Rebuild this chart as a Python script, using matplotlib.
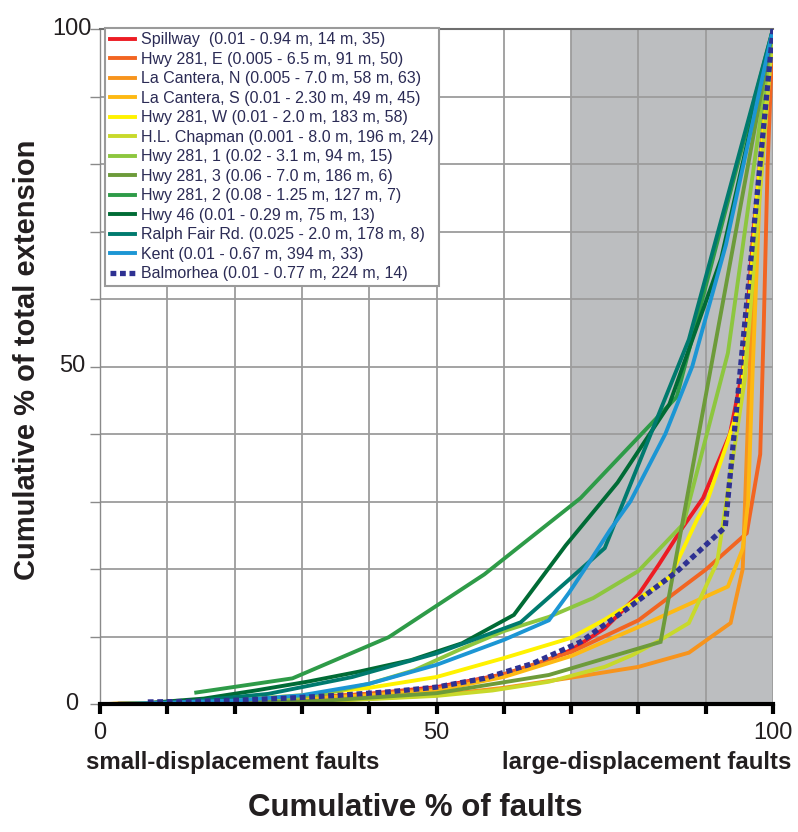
import matplotlib
matplotlib.use("Agg")
import matplotlib.pyplot as plt
from matplotlib.ticker import FixedLocator, NullFormatter
from matplotlib.transforms import blended_transform_factory

plt.rcParams['font.family'] = ['Liberation Sans', 'DejaVu Sans']

# ---- data: cumulative % of faults (x) vs cumulative % of total extension (y) ----
spillway_x = [2.9, 10, 20, 30, 40, 50, 60, 65, 70, 75, 80, 83, 86.6, 89.6, 93.6, 95.6, 97.1, 100]
spillway_y = [0.05, 0.2, 0.5, 0.9, 1.5, 2.5, 4.4, 5.9, 8.0, 11.2, 16.2, 20.6, 26.2, 30.5, 40, 50, 70, 100]

hwy281e_x = [2, 10, 20, 30, 40, 50, 60, 70, 80, 90, 96.1, 98.1, 98.6, 99.2, 100]
hwy281e_y = [0.02, 0.2, 0.5, 0.9, 1.5, 2.3, 4.4, 7.7, 12.4, 19.9, 25.3, 37, 55, 80, 100]

lacantera_n_x = [1.6, 10, 20, 30, 40, 50, 60, 70, 80, 87.5, 93.7, 95.5, 96.6, 98.2, 100]
lacantera_n_y = [0.01, 0.1, 0.2, 0.4, 0.8, 1.3, 2.4, 3.9, 5.5, 7.6, 12.0, 20.0, 51, 80, 100]

lacantera_s_x = [2.2, 10, 20, 30, 40, 50, 60, 70, 80, 93.3, 95.5, 96.3, 97, 98, 100]
lacantera_s_y = [0.02, 0.2, 0.4, 0.8, 1.3, 2.0, 4.0, 7.1, 11.4, 17.4, 23, 30, 50, 75, 100]

hwy281w_x = [1.7, 10, 20, 30, 40, 50, 60, 70, 75, 80, 84.7, 88.7, 90.2, 93.2, 95.1, 95.9, 97.6, 100]
hwy281w_y = [0.02, 0.2, 0.6, 1.3, 2.4, 4.0, 6.8, 9.8, 12.5, 15.6, 18.8, 27.3, 30, 38.7, 44.6, 52, 75, 100]

chapman_x = [4.2, 20.8, 33.3, 41.7, 50, 58.3, 66.7, 75, 79.2, 83.3, 87.5, 91.7, 95.8, 100]
chapman_y = [0.01, 0.1, 0.4, 0.8, 1.2, 2.0, 3.3, 5.5, 7.3, 9.5, 12.0, 21, 48, 100]

hwy281_1_x = [6.7, 13.3, 20, 26.7, 33.3, 40, 46.7, 53.3, 60, 66.7, 73.3, 80, 86.7, 93.3, 100]
hwy281_1_y = [0.02, 0.1, 0.3, 0.7, 1.5, 3.0, 5.0, 8.0, 10.8, 12.9, 15.7, 19.7, 26.7, 52, 100]

hwy281_3_x = [16.7, 33.3, 50, 66.7, 83.3, 100]
hwy281_3_y = [0.03, 0.5, 1.6, 4.3, 9.2, 100]

hwy281_2_x = [14.3, 28.6, 42.9, 57.1, 71.4, 85.7, 100]
hwy281_2_y = [1.7, 3.8, 9.9, 19.2, 30.5, 45.5, 100]

hwy46_x = [7.7, 15.4, 23.1, 30.8, 38.5, 46.2, 53.8, 61.5, 69.2, 76.9, 84.6, 92.3, 100]
hwy46_y = [0.2, 0.8, 2.0, 3.3, 4.8, 6.5, 9.0, 13.2, 23.5, 32.8, 44.4, 66, 100]

ralph_x = [12.5, 25, 37.5, 50, 62.5, 75, 87.5, 100]
ralph_y = [0.3, 1.5, 4.0, 7.5, 12.1, 23.1, 54, 100]

kent_x = [3.0, 10, 20, 30, 40, 50, 60, 66.7, 69.7, 72.7, 75.8, 78.8, 84, 88, 93, 100]
kent_y = [0.05, 0.2, 0.5, 1.3, 3.0, 5.8, 9.5, 12.4, 16.5, 21, 25.8, 30, 40, 50, 68, 100]

balmorhea_x = [7.1, 14.3, 21.4, 28.6, 35.7, 42.9, 50, 57.1, 64.3, 71.4, 78.6, 85.7, 92.9, 100]
balmorhea_y = [0.3, 0.4, 0.6, 0.9, 1.3, 1.8, 2.5, 3.8, 6.0, 9.2, 14.3, 19.6, 26.2, 100]

y_tick_values = [0, 50, 100]
x_tick_values = [0, 50, 100]

labels = [
    "Spillway  (0.01 - 0.94 m, 14 m, 35)",
    "Hwy 281, E (0.005 - 6.5 m, 91 m, 50)",
    "La Cantera, N (0.005 - 7.0 m, 58 m, 63)",
    "La Cantera, S (0.01 - 2.30 m, 49 m, 45)",
    "Hwy 281, W (0.01 - 2.0 m, 183 m, 58)",
    "H.L. Chapman (0.001 - 8.0 m, 196 m, 24)",
    "Hwy 281, 1 (0.02 - 3.1 m, 94 m, 15)",
    "Hwy 281, 3 (0.06 - 7.0 m, 186 m, 6)",
    "Hwy 281, 2 (0.08 - 1.25 m, 127 m, 7)",
    "Hwy 46 (0.01 - 0.29 m, 75 m, 13)",
    "Ralph Fair Rd. (0.025 - 2.0 m, 178 m, 8)",
    "Kent (0.01 - 0.67 m, 394 m, 33)",
    "Balmorhea (0.01 - 0.77 m, 224 m, 14)",
]
series = [
    (spillway_x, spillway_y), (hwy281e_x, hwy281e_y), (lacantera_n_x, lacantera_n_y),
    (lacantera_s_x, lacantera_s_y), (hwy281w_x, hwy281w_y), (chapman_x, chapman_y),
    (hwy281_1_x, hwy281_1_y), (hwy281_3_x, hwy281_3_y), (hwy281_2_x, hwy281_2_y),
    (hwy46_x, hwy46_y), (ralph_x, ralph_y), (kent_x, kent_y), (balmorhea_x, balmorhea_y),
]
colors = ['#ed1c24', '#f26522', '#f7941d', '#fdb913', '#fff200', '#c8d92b', '#8dc63f',
          '#6d9b3a', '#2e9b48', '#006b35', '#007a6e', '#1c96d4', '#2e3192']

# ---- figure ----
W, H = 798, 832
fig = plt.figure(figsize=(W / 100, H / 100), dpi=100)
ax = fig.add_axes([100 / W, 1 - 704 / H, 673 / W, 675 / H])
ax.set_xlim(0, 100)
ax.set_ylim(0, 100)

# shaded band for the large-displacement end
ax.axvspan(70, 100, color='#bcbec0', lw=0, zorder=0)

ax.set_axisbelow(True)
ticks10 = list(range(0, 101, 10))
ax.xaxis.set_major_locator(FixedLocator(x_tick_values))
ax.xaxis.set_minor_locator(FixedLocator(ticks10))
ax.yaxis.set_major_locator(FixedLocator(y_tick_values))
ax.yaxis.set_minor_locator(FixedLocator(ticks10))
ax.yaxis.set_major_formatter(NullFormatter())
ax.grid(True, which='both', color='#9c9c9c', lw=1.3)

for (xs, ys), lab, c in zip(series, labels, colors):
    if lab.startswith('Balmorhea'):
        ax.plot(xs, ys, color=c, lw=3.8, dashes=(1.1, 0.7), dash_capstyle='butt',
                label=lab, zorder=5)
    else:
        ax.plot(xs, ys, color=c, lw=2.8, label=lab, zorder=3, solid_joinstyle='miter')

ax.spines['right'].set_visible(False)
ax.spines['top'].set_color('#6e6e6e')
ax.spines['top'].set_linewidth(1.5)
ax.spines['left'].set_color('#8a8a8a')
ax.spines['left'].set_linewidth(1.0)
ax.spines['bottom'].set_color('black')
ax.spines['bottom'].set_linewidth(3.0)
ax.spines['bottom'].set_zorder(6)

ax.tick_params(axis='x', which='both', direction='out', length=7, width=3, color='black',
               labelsize=17, labelcolor='#231f20', pad=6)
ax.tick_params(axis='y', which='both', direction='out', length=7, width=1, color='#8a8a8a')
ax.tick_params(which='minor', labelleft=False, labelbottom=False)

# y tick labels, centred in a column left of the axis
ytrans = blended_transform_factory(ax.transAxes, ax.transData)
for v in y_tick_values:
    ax.text(-28 / 673, v, str(v), transform=ytrans, ha='center', va='center',
            fontsize=17, color='#231f20', clip_on=False)

leg = ax.legend(loc='upper left', bbox_to_anchor=(0.007, 1.002), fontsize=11.5,
                frameon=True, fancybox=False, framealpha=1, edgecolor='#9a9a9a',
                borderpad=0.3, labelspacing=0.28, handlelength=1.6, handletextpad=0.4,
                borderaxespad=0)
leg.get_frame().set_linewidth(1.5)
for t in leg.get_texts():
    t.set_color('#2b2b55')
leg.set_zorder(7)

fig.text(233 / W, 1 - 762 / H, 'small-displacement faults', ha='center', va='center',
         fontsize=17.3, fontweight='bold', color='#231f20')
fig.text(647 / W, 1 - 762 / H, 'large-displacement faults', ha='center', va='center',
         fontsize=17.3, fontweight='bold', color='#231f20')
fig.text(415 / W, 1 - 808 / H, 'Cumulative % of faults', ha='center', va='center',
         fontsize=22.5, fontweight='bold', color='#231f20')
fig.text(27 / W, 1 - 360 / H, 'Cumulative % of total extension', ha='center', va='center',
         rotation=90, fontsize=21, fontweight='bold', color='#231f20')

fig.savefig('out.png', dpi=100)
